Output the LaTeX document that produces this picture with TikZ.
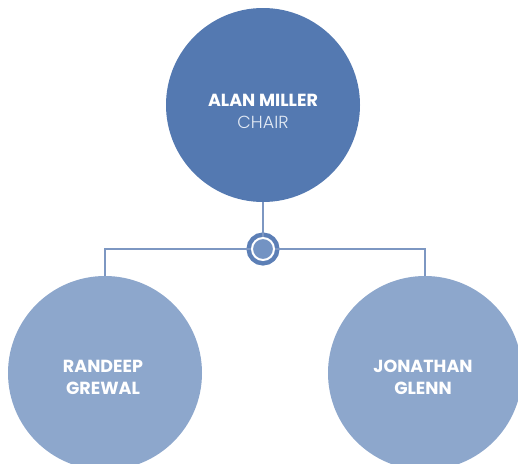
\documentclass[tikz,border=0pt]{standalone}
\usepackage{fontspec}
\setmainfont{Poppins}
\newfontfamily\lightfont{Poppins Light}
\usepackage{tikz}
\definecolor{chairblue}{HTML}{5479B1}
\definecolor{memberblue}{HTML}{8DA7CC}
\definecolor{linkblue}{HTML}{7D97C2}
\definecolor{hubblue}{HTML}{5C7FB6}
\definecolor{hubinner}{HTML}{7393C3}
\definecolor{roletext}{HTML}{E4EBF5}

\begin{document}
\begin{tikzpicture}[x=1pt, y=-1pt,
    person/.style={circle, inner sep=0pt, minimum size=194pt},
    nametext/.style={align=center, text=white, font=\bfseries\fontsize{17.5}{22}\selectfont},
    link/.style={draw=linkblue, line width=1.3pt},
    hub/.style={circle, inner sep=0pt, minimum size=22pt, fill=hubinner, draw=white, line width=2pt,
        preaction={draw=hubblue, line width=11pt}}]
    \useasboundingbox (0,0) rectangle (518,463);
    \node [person, fill=chairblue] (chair) at (263,105) {};
    \node [person, fill=memberblue] (randeep) at (105,373) {};
    \node [person, fill=memberblue] (jonathan) at (425,373) {};
    \node [hub] (hub) at (263,249) {};
    \draw [link] (chair) -- (hub);
    \draw [link] (hub) -| (randeep);
    \draw [link] (hub) -| (jonathan);
    \node [nametext] (chairname) at (263,111) {ALAN MILLER\\{\lightfont\mdseries\color{roletext}CHAIR}};
    \node [nametext] (randeepname) at (103,377) {RANDEEP\\GREWAL};
    \node [nametext] (jonathanname) at (423,377) {JONATHAN\\GLENN};
\end{tikzpicture}
\end{document}
